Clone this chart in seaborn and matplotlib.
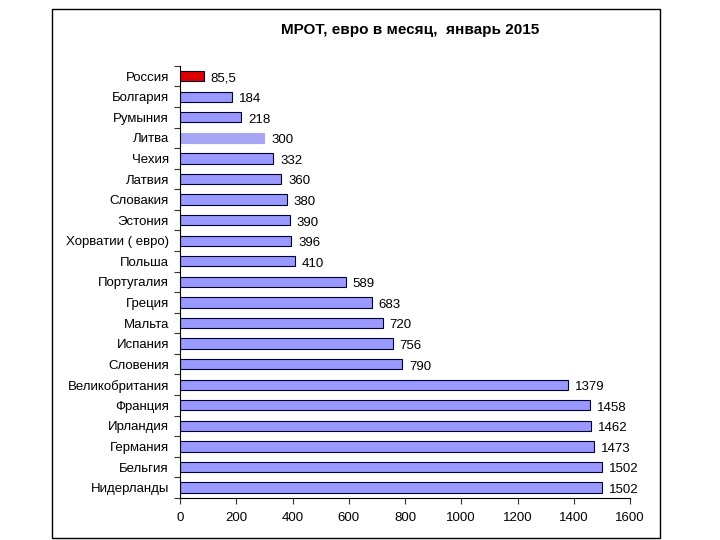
import numpy as np
import pandas as pd
import matplotlib
matplotlib.use('Agg')
import matplotlib.pyplot as plt
import seaborn as sns
from matplotlib.patches import Rectangle

# данные с картинки
countries = ['Россия', 'Болгария', 'Румыния', 'Литва', 'Чехия', 'Латвия', 'Словакия',
             'Эстония', 'Хорватии ( евро)', 'Польша', 'Португалия', 'Греция', 'Мальта',
             'Испания', 'Словения', 'Великобритания', 'Франция', 'Ирландия', 'Германия',
             'Бельгия', 'Нидерланды']
values = [85.5, 184, 218, 300, 332, 360, 380, 390, 396, 410, 589, 683, 720, 756, 790,
          1379, 1458, 1462, 1473, 1502, 1502]
value_labels = ['85,5', '184', '218', '300', '332', '360', '380', '390', '396', '410',
                '589', '683', '720', '756', '790', '1379', '1458', '1462', '1473',
                '1502', '1502']
xticks = [0, 200, 400, 600, 800, 1000, 1200, 1400, 1600]

df = pd.DataFrame({'country': countries, 'value': values})

sns.set_style('white')
plt.rcParams['font.family'] = ['Liberation Sans', 'DejaVu Sans']
plt.rcParams['text.color'] = 'black'
plt.rcParams['xtick.color'] = 'black'
plt.rcParams['ytick.color'] = 'black'

fig = plt.figure(figsize=(7.2, 5.4), dpi=100)
ax = fig.add_axes([0.25, 0.078, 0.625, 0.8])

# рамка вокруг всей диаграммы
fig.patches.append(Rectangle((52 / 720, 1 - 538 / 540), 608 / 720, 529 / 540,
                             transform=fig.transFigure, fill=False,
                             edgecolor='black', linewidth=1.0))

colors = ['#dd0000'] + ['#9999ff'] * (len(countries) - 1)
sns.barplot(data=df, x='value', y='country', hue='country', palette=colors,
            saturation=1, legend=False, width=0.5, edgecolor='#000033',
            linewidth=0.8, ax=ax)
# у Литвы светлее и без обводки
ax.patches[3].set_facecolor('#a6a6f2')
ax.patches[3].set_edgecolor('#a6a6f2')

for i, (v, lab) in enumerate(zip(values, value_labels)):
    ax.text(v + 24, i + 0.12, lab, va='center', ha='left', fontsize=9.5)

ax.set_xlim(0, 1600)
ax.set_xticks(xticks)
ax.set_ylim(len(countries) - 0.5, -0.5)
ax.set_yticks(np.arange(len(countries)))
ax.set_yticklabels(countries, fontsize=9.5)
ax.set_yticks(np.arange(len(countries) + 1) - 0.5, minor=True)
ax.tick_params(axis='y', which='major', left=False, length=0, pad=8)
ax.tick_params(axis='y', which='minor', left=True, length=4, width=0.8,
               direction='out', color='#333333')
ax.tick_params(axis='x', bottom=True, length=4, width=0.8, direction='out',
               labelsize=9.5, pad=6, color='#333333')
ax.set_xlabel('')
ax.set_ylabel('')
for s in ['top', 'right']:
    ax.spines[s].set_visible(False)
for s in ['left', 'bottom']:
    ax.spines[s].set_color('black')
    ax.spines[s].set_linewidth(0.8)

fig.text(410 / 720, 1 - 30 / 540, 'МРОТ, евро в месяц,  январь 2015', ha='center',
         va='center', fontsize=11, fontweight='bold')

fig.savefig('out.png', dpi=100)
